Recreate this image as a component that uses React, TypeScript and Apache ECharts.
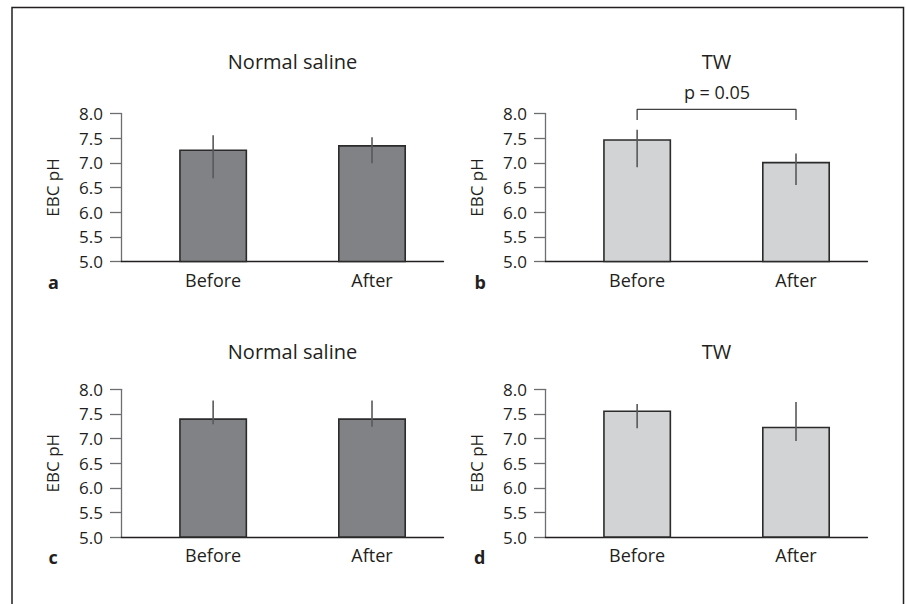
import React, { useEffect, useRef } from "react";
import * as echarts from "echarts";

// ---- data ----
const categories = ["Before", "After"];
const panelTitles = ["Normal saline", "TW", "Normal saline", "TW"];
const panelLetters = ["a", "b", "c", "d"];
const yMin = 5.0;
const yMax = 8.0;
const yInterval = 0.5;

// bar heights (EBC pH) and error-bar ends, per panel
const salineTopValues = [7.27, 7.36];
const salineTopLow = [6.69, 6.99];
const salineTopHigh = [7.56, 7.52];

const twTopValues = [7.48, 7.02];
const twTopLow = [6.91, 6.55];
const twTopHigh = [7.67, 7.19];

const salineBottomValues = [7.41, 7.41];
const salineBottomLow = [7.29, 7.24];
const salineBottomHigh = [7.77, 7.77];

const twBottomValues = [7.57, 7.24];
const twBottomLow = [7.21, 6.95];
const twBottomHigh = [7.70, 7.74];

// significance bracket in panel b (data units)
const bracketLegLow = 7.87;
const bracketTop = 8.085;
const bracketLabel = "p = 0.05";

const FONT = "'Open Sans', 'Noto Sans', sans-serif";
const TEXT = "#231f20";
const DARK_FILL = "#808285";
const LIGHT_FILL = "#d1d3d4";

export default function App() {
  const ref = useRef<HTMLDivElement>(null);

  useEffect(() => {
    if (!ref.current) return;
    const chart = echarts.init(ref.current, undefined, { renderer: "svg" });

    const panels = [
      { values: salineTopValues, low: salineTopLow, high: salineTopHigh, fill: DARK_FILL },
      { values: twTopValues, low: twTopLow, high: twTopHigh, fill: LIGHT_FILL },
      { values: salineBottomValues, low: salineBottomLow, high: salineBottomHigh, fill: DARK_FILL },
      { values: twBottomValues, low: twBottomLow, high: twBottomHigh, fill: LIGHT_FILL },
    ];

    const grids = [
      { left: 121, top: 113.5, width: 322.5, height: 148 },
      { left: 545, top: 113.5, width: 322.5, height: 148 },
      { left: 121, top: 389.3, width: 322.5, height: 147.7 },
      { left: 545, top: 389.3, width: 322.5, height: 147.7 },
    ];

    const xAxes = grids.map((_, i) => ({
      type: "value",
      gridIndex: i,
      min: -0.58,
      max: 1.45,
      splitLine: { show: false },
      axisTick: { show: false },
      axisLine: { show: true, onZero: false, lineStyle: { color: TEXT, width: 1.3 } },
      axisLabel: {
        customValues: categories.map((_, k) => k),
        formatter: (v: number) => categories[Math.round(v)] ?? "",
        fontFamily: FONT,
        fontSize: 18,
        color: TEXT,
        margin: 9,
        showMinLabel: true,
        showMaxLabel: true,
      },
    }));

    const yAxes = grids.map((_, i) => ({
      type: "value",
      gridIndex: i,
      min: yMin,
      max: yMax,
      interval: yInterval,
      name: "EBC pH",
      nameLocation: "middle",
      nameGap: 60,
      nameTextStyle: { fontFamily: FONT, fontSize: 17, color: TEXT },
      splitLine: { show: false },
      axisLine: { show: true, onZero: false, lineStyle: { color: "#6d6e71", width: 1.3 } },
      axisTick: { show: true, length: 11, inside: false, lineStyle: { color: "#6d6e71", width: 1.3 } },
      axisLabel: {
        formatter: (v: number) => v.toFixed(1),
        fontFamily: FONT,
        fontSize: 17,
        color: TEXT,
        margin: 18,
      },
    }));

    const series: any[] = [];
    panels.forEach((p, i) => {
      series.push({
        type: "bar",
        xAxisIndex: i,
        yAxisIndex: i,
        barWidth: 68,
        data: p.values.map((v, k) => [k, v]),
        itemStyle: { color: p.fill, borderColor: "#2b2b2b", borderWidth: 1.6 },
        silent: true,
        z: 2,
      });
      series.push({
        type: "custom",
        xAxisIndex: i,
        yAxisIndex: i,
        data: p.values.map((_, k) => [k, p.low[k], p.high[k]]),
        encode: { x: 0, y: [1, 2] },
        renderItem: (params: any, api: any) => {
          const x = api.value(0);
          const a = api.coord([x, api.value(1)]);
          const b = api.coord([x, api.value(2)]);
          return {
            type: "line",
            shape: { x1: a[0], y1: a[1], x2: b[0], y2: b[1] },
            style: { stroke: "#58595b", lineWidth: 1.6 },
          };
        },
        silent: true,
        z: 3,
      });
    });

    // significance bracket on panel b
    series.push({
      type: "line",
      xAxisIndex: 1,
      yAxisIndex: 1,
      data: [
        [0, bracketLegLow],
        [0, bracketTop],
        [1, bracketTop],
        [1, bracketLegLow],
      ],
      symbol: "none",
      clip: false,
      silent: true,
      lineStyle: { color: "#414042", width: 1.3 },
      z: 3,
    });

    const titleCenters = [
      { x: 292.5, y: 61.5 },
      { x: 716.5, y: 61.5 },
      { x: 292.5, y: 351.5 },
      { x: 716.5, y: 351.5 },
    ];
    const letterPos = [
      { x: 48, y: 281.5 },
      { x: 474.5, y: 281.5 },
      { x: 48.5, y: 557 },
      { x: 474, y: 557 },
    ];

    const graphic: any[] = [
      {
        type: "polyline",
        shape: { points: [[12, 604], [12, 7.5], [903.5, 7.5], [903.5, 604]] },
        style: { stroke: "#231f20", lineWidth: 1.5, fill: "none" },
        silent: true,
      },
      ...panelTitles.map((t, i) => ({
        type: "text",
        x: titleCenters[i].x,
        y: titleCenters[i].y,
        style: {
          text: t,
          font: `20px ${FONT}`,
          fill: TEXT,
          textAlign: "center",
          textVerticalAlign: "middle",
        },
        silent: true,
      })),
      ...panelLetters.map((t, i) => ({
        type: "text",
        x: letterPos[i].x,
        y: letterPos[i].y,
        style: {
          text: t,
          font: `bold 18px ${FONT}`,
          fill: TEXT,
          textAlign: "left",
          textVerticalAlign: "middle",
        },
        silent: true,
      })),
      {
        type: "text",
        x: 717,
        y: 92,
        style: {
          text: bracketLabel,
          font: `18px ${FONT}`,
          fill: TEXT,
          textAlign: "center",
          textVerticalAlign: "middle",
        },
        silent: true,
      },
    ];

    chart.setOption({
      animation: false,
      backgroundColor: "#ffffff",
      grid: grids,
      xAxis: xAxes,
      yAxis: yAxes,
      series,
      graphic,
    });

    return () => chart.dispose();
  }, []);

  return (
    <div
      ref={ref}
      style={{ position: "fixed", left: 0, top: 0, width: 906, height: 604 }}
    />
  );
}
